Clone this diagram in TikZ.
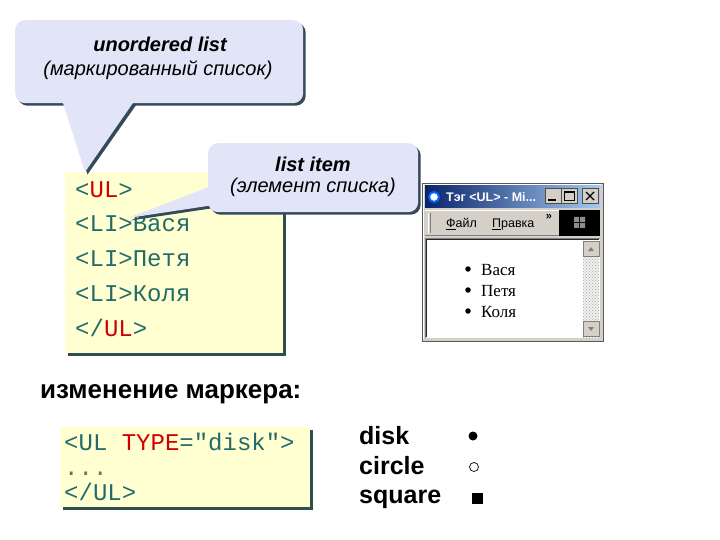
\documentclass[tikz,border=0pt]{standalone}
\usepackage{fontspec}
\setmainfont{Liberation Sans}
\newfontfamily\monof{Liberation Mono}
\newfontfamily\serf{Liberation Serif}
\usetikzlibrary{patterns}
\definecolor{callfill}{HTML}{E1E5F7}
\definecolor{callshadow}{HTML}{34495A}
\definecolor{codefill}{HTML}{FFFFD2}
\definecolor{codeshadow}{HTML}{2F4F4F}
\definecolor{codeteal}{HTML}{236B6B}
\definecolor{codered}{HTML}{D00000}
\definecolor{dotcol}{HTML}{7A6A5A}
\definecolor{wingray}{HTML}{D4D0C8}
\definecolor{titledark}{HTML}{0A246A}
\definecolor{titlelight}{HTML}{A6CAF0}
\begin{document}
\begin{tikzpicture}[x=1pt,y=-1pt,
  codetext/.style={anchor=base west, inner sep=0, font=\monof\fontsize{24}{24}\selectfont, text=codeteal},
  calltext/.style={inner sep=0, font=\fontsize{20}{20}\selectfont\itshape},
  callbox/.style={fill=callfill, rounded corners=10pt, inner sep=0, anchor=north west},
  callsh/.style={fill=callshadow, rounded corners=10pt, inner sep=0, anchor=north west},
  codebox/.style={fill=codefill, inner sep=0, anchor=north west},
  codesh/.style={fill=codeshadow, inner sep=0, anchor=north west},
  bigtext/.style={anchor=base west, inner sep=0, font=\bfseries\fontsize{25}{25}\selectfont},
  menutext/.style={anchor=base west, inner sep=0, font=\fontsize{12.5}{12.5}\selectfont},
  listtext/.style={anchor=base west, inner sep=0, font=\serf\fontsize{17}{17}\selectfont},
  winbtn/.style={fill=wingray, draw=black!70, inner sep=0, minimum width=16pt, minimum height=15pt},
  bullet/.style={circle, fill=black, inner sep=0, minimum size=5.5pt}
]
\useasboundingbox (0,0) rectangle (720,540);

% ---------- code box 1 ----------
\node[codesh, minimum width=218pt, minimum height=181pt] (box1s) at (67.5,174.5) {};
\node[codebox, minimum width=218pt, minimum height=181pt] (box1) at (65,172) {};
\node[codetext] (l1) at (75,197) {<\textcolor{codered}{UL}>};
\node[codetext] (l2) at (75,232) {<LI>Вася};
\node[codetext] (l3) at (75,266) {<LI>Петя};
\node[codetext] (l4) at (75,301) {<LI>Коля};
\node[codetext] (l5) at (75,336) {</\textcolor{codered}{UL}>};

% ---------- callout 1 ----------
\node[callsh, minimum width=288pt, minimum height=83pt] (c1s) at (17.5,22.5) {};
\fill[callshadow] (65,103) -- (87.5,174.5) -- (137.5,103) -- cycle;
\node[callbox, minimum width=288pt, minimum height=83pt] (c1) at (15,20) {};
\coordinate (tip1) at (85,172);
\fill[callfill] (62,100) -- (tip1) -- (135,100) -- cycle;
\node[calltext, font=\fontsize{20}{20}\selectfont\bfseries\itshape] (t1) at (160,44) {unordered list};
\node[calltext] (t2) at (158,70) {(маркированный список)};

% ---------- callout 2 ----------
\node[callsh, minimum width=210pt, minimum height=69pt] (c2s) at (210.5,145.5) {};
\fill[callshadow] (214,188) -- (130.5,220.5) -- (214,208) -- cycle;
\node[callbox, minimum width=210pt, minimum height=69pt] (c2) at (208,143) {};
\coordinate (tip2) at (128,218);
\fill[callfill] (214,185) -- (tip2) -- (214,205) -- cycle;
\node[calltext, font=\fontsize{20}{20}\selectfont\bfseries\itshape] (t3) at (313,164) {list item};
\node[calltext] (t4) at (313,187) {(элемент списка)};

% ---------- browser window ----------
\node[fill=wingray, draw=black!65, line width=1pt, minimum width=181pt, minimum height=158pt, inner sep=0, anchor=north west] (win) at (422,183) {};
\draw[white, line width=1pt] (423.5,339) -- (423.5,184.5) -- (601,184.5);
\shade[left color=titledark, right color=titlelight] (425,186) rectangle (600,208);
\node[circle, draw=blue!60!cyan, line width=2pt, fill=white, inner sep=0, minimum size=10pt] (icon) at (434,197) {};
\node[anchor=base west, inner sep=0, text=white, font=\bfseries\fontsize{12.5}{12.5}\selectfont] (ttl) at (446,202) {Тэг <UL> - Mi...};
\node[winbtn] (bmin) at (553,196) {};
\node[winbtn] (bmax) at (569,196) {};
\node[winbtn] (bcls) at (590,196) {};
\fill[black] (548,199.5) rectangle (556,201.5);
\draw[black, line width=0.8pt] (564,191.5) rectangle (574,200.5);
\draw[black, line width=1.6pt] (564,192) -- (574,192);
\draw[black, line width=1.4pt] (586,192) -- (594,200) (594,192) -- (586,200);
% menu bar
\fill[wingray] (425,210) rectangle (600,236);
\draw[white] (425,210.5) -- (600,210.5);
\draw[black!50] (425,235.5) -- (600,235.5);
\draw[white] (428.5,213) -- (428.5,233);
\draw[black!50] (430.5,213) -- (430.5,233);
\node[menutext] (m1) at (446,228) {\underline{Ф}айл};
\node[menutext] (m2) at (492,228) {\underline{П}равка};
\node[anchor=center, inner sep=0, font=\bfseries\fontsize{11}{11}\selectfont] (m3) at (549,217) {»};
\fill[black] (559,210) rectangle (600,236);
\fill[black!45] (574,217) rectangle (579,222) (580,217) rectangle (585,222) (574,223) rectangle (579,228) (580,223) rectangle (585,228);
% content area
\fill[white] (425,238) rectangle (600,338);
\draw[black!50] (425.5,338) -- (425.5,238.5) -- (600,238.5);
\draw[black!85] (426.5,337) -- (426.5,239.5) -- (599,239.5);
\fill[black!6] (583,241) rectangle (599,337);
\fill[pattern=crosshatch dots, pattern color=black!35] (583,241) rectangle (599,337);
\node[winbtn, draw=black!50, anchor=north west] (sup) at (583,241) {};
\node[winbtn, draw=black!50, anchor=north west] (sdn) at (583,321) {};
\fill[black!50] (588,251) -- (591,247) -- (594,251) -- cycle;
\fill[black!50] (588,327) -- (591,331) -- (594,327) -- cycle;
\node[bullet] (b1) at (468,269) {};
\node[bullet] (b2) at (468,290) {};
\node[bullet] (b3) at (468,311) {};
\node[listtext] (v1) at (481,275) {Вася};
\node[listtext] (v2) at (481,296) {Петя};
\node[listtext] (v3) at (481,317) {Коля};

% ---------- bottom section ----------
\node[bigtext, font=\bfseries\fontsize{26}{26}\selectfont] (chg) at (40,398) {изменение маркера:};
\node[codesh, minimum width=250pt, minimum height=80pt] (box2s) at (62.5,429.5) {};
\node[codebox, minimum width=250pt, minimum height=80pt] (box2) at (60,427) {};
\node[codetext] (k1) at (64,450) {<UL \textcolor{codered}{TYPE}="disk">};
\node[codetext, text=dotcol] (k2) at (64,475) {...};
\node[codetext] (k3) at (64,500) {</UL>};

\node[bigtext] (d1) at (359,444) {disk};
\node[bigtext] (d2) at (359,474) {circle};
\node[bigtext] (d3) at (359,503) {square};
\node[circle, fill=black, inner sep=0, minimum size=9pt] (s1) at (473,436) {};
\node[circle, draw=black, line width=0.7pt, inner sep=0, minimum size=9pt] (s2) at (474,467) {};
\node[rectangle, fill=black, inner sep=0, minimum size=11pt] (s3) at (477,498) {};
\end{tikzpicture}
\end{document}
